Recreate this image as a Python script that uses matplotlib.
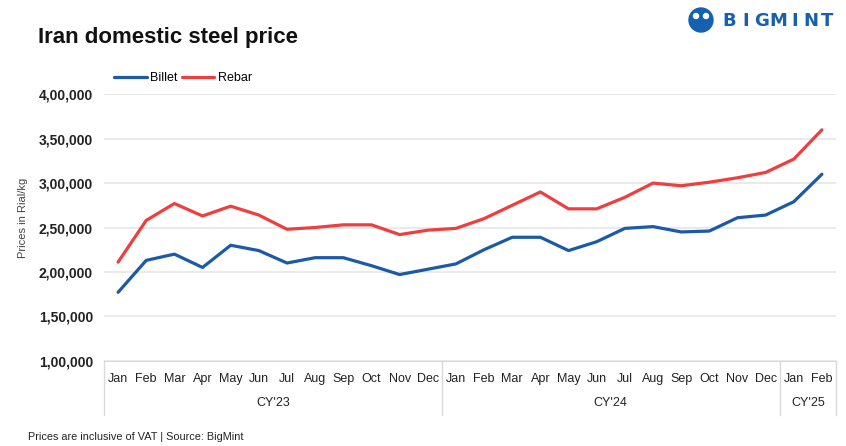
import numpy as np
import matplotlib
matplotlib.use("Agg")
import matplotlib.pyplot as plt
from matplotlib.patches import Ellipse

plt.rcParams['font.family'] = ['Liberation Sans', 'DejaVu Sans']

# data
months = ["Jan", "Feb", "Mar", "Apr", "May", "Jun", "Jul", "Aug", "Sep", "Oct", "Nov", "Dec",
          "Jan", "Feb", "Mar", "Apr", "May", "Jun", "Jul", "Aug", "Sep", "Oct", "Nov", "Dec",
          "Jan", "Feb"]
years = ["CY'23", "CY'24", "CY'25"]
year_len = [12, 12, 2]
billet = [177000, 213000, 220000, 205000, 230000, 224000, 210000, 216000, 216000, 207000, 197000, 203000,
          209000, 225000, 239000, 239000, 224000, 234000, 249000, 251000, 245000, 246000, 261000, 264000,
          279000, 310000]
rebar = [211000, 258000, 277000, 263000, 274000, 264000, 248000, 250000, 253000, 253000, 242000, 247000,
         249000, 260000, 275000, 290000, 271000, 271000, 284000, 300000, 297000, 301000, 306000, 312000,
         327000, 360000]

blue = "#1C59A8"
red = "#EF3E3E"

fig = plt.figure(figsize=(8.46, 4.46), dpi=100)
ax = fig.add_axes([104/846, 1-360.7/446, 732/846, 266.4/446])

x = np.arange(len(months))
ax.plot(x, billet, color=blue, lw=2.3, label="Billet", solid_capstyle="round")
ax.plot(x, rebar, color=red, lw=2.3, label="Rebar", solid_capstyle="round")

ax.set_xlim(-0.5, len(months) - 0.5)
ax.set_ylim(100000, 400000)
yt = np.arange(100000, 400001, 50000)
ax.set_yticks(yt)
ax.set_yticklabels(["1,00,000", "1,50,000", "2,00,000", "2,50,000", "3,00,000", "3,50,000", "4,00,000"],
                   fontweight="bold", fontsize=10, color="#222222")
ax.set_xticks(x)
ax.set_xticklabels(months, fontsize=9, color="#222222")
ax.tick_params(axis="both", length=0)
ax.tick_params(axis="x", pad=9)
ax.tick_params(axis="y", pad=8)
ax.grid(axis="y", color="#e6e6e6", lw=1.2)
ax.set_axisbelow(True)
for s in ["top", "right", "left"]:
    ax.spines[s].set_visible(False)
ax.spines["bottom"].set_color("#d9d9d9")

ax.set_ylabel("Prices in Rial/kg", fontsize=8, color="#444444")
ax.yaxis.set_label_coords(-76/732, 0.535)

# year grouping under month labels
tr = ax.get_xaxis_transform()
start = -0.5
ax.plot([start, start], [0, -0.205], transform=tr, color="#d9d9d9", lw=1, clip_on=False)
for yr, n in zip(years, year_len):
    end = start + n
    ax.plot([end, end], [0, -0.205], transform=tr, color="#d9d9d9", lw=1, clip_on=False)
    ax.text((start + end) / 2, -0.16, yr, transform=tr, ha="center", va="center",
            fontsize=9, color="#222222")
    start = end

leg = ax.legend(loc="lower left", bbox_to_anchor=(0.0, 1.0), ncol=2, frameon=False,
                fontsize=9, handlelength=2.6, columnspacing=0.3, handletextpad=0.3,
                borderaxespad=0.4)

fig.text(38/846, 1-37/446, "Iran domestic steel price", fontsize=16, fontweight="bold",
         va="center", ha="left", color="#111111")
fig.text(28/846, 1-437/446, "Prices are inclusive of VAT | Source: BigMint", fontsize=7.8,
         va="center", ha="left", color="#222222")

# logo
for i, ch in enumerate("BIGMINT"):
    fig.text((729 + i * 16.3)/846, 1-21/446, ch, fontsize=13, fontweight="bold", color="#1560B0",
             va="center", ha="center", family=["DejaVu Sans"])
fig.patches.append(Ellipse((701/846, 1-20/446), 24/846, 24/446, transform=fig.transFigure,
                           color="#1560B0", zorder=3))
for dx in (-5, 5):
    fig.patches.append(Ellipse(((701 + dx)/846, 1-16/446), 5/846, 5/446, transform=fig.transFigure,
                               color="white", zorder=4))

fig.savefig("out.png", dpi=100, facecolor="white")
